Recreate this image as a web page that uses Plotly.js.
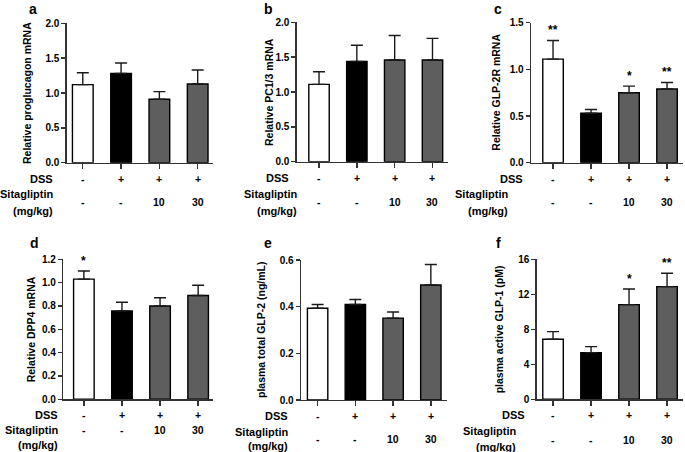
<!DOCTYPE html>
<html>
<head>
<meta charset="utf-8">
<script src="https://cdn.plot.ly/plotly-3.0.1.min.js"></script>
<style>html,body{margin:0;padding:0;background:#fff;}#chart{width:685px;height:452px;}</style>
</head>
<body>
<div id="chart"></div>
<script>
// ---- data ----
const groups = [0, 1, 2, 3];
const dssLabels = ["-", "+", "+", "+"];
const sitaLabels = ["-", "-", "10", "30"];
const barColors = ["#ffffff", "#000000", "#5e5e5e", "#5e5e5e"];

const panelLetters = ["a", "b", "c", "d", "e", "f"];
const yTitles = ["Relative proglucagon mRNA", "Relative PC1/3 mRNA", "Relative GLP-2R mRNA",
                 "Relative DPP4 mRNA", "plasma total GLP-2 (ng/mL)", "plasma active GLP-1 (pM)"];

const proglucagonMean = [1.12, 1.28, 0.91, 1.13];
const proglucagonErr  = [0.17, 0.15, 0.11, 0.20];
const pc13Mean = [1.11, 1.44, 1.46, 1.46];
const pc13Err  = [0.18, 0.23, 0.35, 0.31];
const glp2rMean = [1.11, 0.53, 0.75, 0.79];
const glp2rErr  = [0.20, 0.04, 0.07, 0.07];
const dpp4Mean = [1.03, 0.757, 0.80, 0.89];
const dpp4Err  = [0.07, 0.075, 0.07, 0.087];
const glp2Mean = [0.393, 0.409, 0.351, 0.493];
const glp2Err  = [0.016, 0.022, 0.026, 0.088];
const glp1Mean = [6.86, 5.33, 10.82, 12.88];
const glp1Err  = [0.87, 0.69, 1.78, 1.52];

const glp2rStars = ["**", "", "*", "**"];
const dpp4Stars = ["*", "", "", ""];
const glp1Stars = ["", "", "*", "**"];

const yTickVals = [
  [0, 0.5, 1.0, 1.5, 2.0],
  [0, 0.5, 1.0, 1.5, 2.0],
  [0, 0.5, 1.0, 1.5],
  [0, 0.2, 0.4, 0.6, 0.8, 1.0, 1.2],
  [0, 0.2, 0.4, 0.6],
  [0, 4, 8, 12, 16]
];
const yTickText = [
  ["0.0", "0.5", "1.0", "1.5", "2.0"],
  ["0.0", "0.5", "1.0", "1.5", "2.0"],
  ["0.0", "0.5", "1.0", "1.5"],
  ["0.0", "0.2", "0.4", "0.6", "0.8", "1.0", "1.2"],
  ["0.0", "0.2", "0.4", "0.6"],
  ["0", "4", "8", "12", "16"]
];
const yMax = [2.0, 2.0, 1.5, 1.2, 0.6, 16];

const means = [proglucagonMean, pc13Mean, glp2rMean, dpp4Mean, glp2Mean, glp1Mean];
const errs = [proglucagonErr, pc13Err, glp2rErr, dpp4Err, glp2Err, glp1Err];
const stars = [null, null, glp2rStars, dpp4Stars, null, glp1Stars];

// ---- layout geometry (pixels) ----
const W = 685, H = 452;
// [axisLeftX, axisRightX, y0px, yTopPx, rangeLo, rangeHi]
const geo = [
  [66.7, 213, 162.7, 23.3, -0.42, 3.40],
  [296.7, 448, 161.7, 22.3, -0.59, 3.41],
  [531, 683, 162.7, 22.7, -0.58, 3.42],
  [63.3, 213, 399.3, 259.3, -0.54, 3.39],
  [301, 446.7, 400, 260, -0.44, 3.42],
  [536.7, 683, 399.3, 259.3, -0.43, 3.42]
];
// row label positions: [dssRightX, dssY, sitaY, valuesY, mgkgY, sitaRightX]
const rows = [
  [55, 179, 194.3, 201.7, 210.7, 55],
  [291, 178.3, 194.3, 201.7, 210.7, 299],
  [525, 179, 194.3, 201.7, 210.7, 510],
  [60, 415, 430, 430, 445, 60],
  [290, 416, 432, 439.3, 446, 290],
  [527, 415, 430.7, 440, 446.5, 518]
];
const letterPos = [[33, 9], [268, 9], [498, 9], [34, 243], [268, 243], [498, 243]];
const yTitleX = [27, 269, 496, 31, 261, 499];

const px = x => x / W;
const py = y => 1 - y / H;

const FONT = "Liberation Sans, Arial, sans-serif";
const data = [];
const layout = {
  width: W, height: H,
  margin: {l: 0, r: 0, t: 0, b: 0},
  paper_bgcolor: "#fff", plot_bgcolor: "rgba(0,0,0,0)",
  showlegend: false,
  font: {family: FONT, color: "#000"},
  annotations: []
};

for (let i = 0; i < 6; i++) {
  const g = geo[i];
  const xa = i === 0 ? "x" : "x" + (i + 1);
  const ya = i === 0 ? "y" : "y" + (i + 1);
  const xk = i === 0 ? "xaxis" : "xaxis" + (i + 1);
  const yk = i === 0 ? "yaxis" : "yaxis" + (i + 1);
  data.push({
    type: "bar", x: groups, y: means[i], xaxis: xa, yaxis: ya,
    width: 0.54,
    marker: {color: barColors, line: {color: "#000", width: 1.4}},
    error_y: {type: "data", symmetric: false, array: errs[i], arrayminus: groups.map(() => 0),
              color: "#1a1a1a", thickness: 1.4, width: 6},
    hoverinfo: "skip"
  });
  layout[xk] = {
    domain: [px(g[0]), px(g[1])], range: [g[4], g[5]], anchor: ya,
    showgrid: false, zeroline: false, showline: true, linecolor: "#333", linewidth: 1.4,
    ticks: "outside", tickvals: groups, ticklen: 5, tickwidth: 1.4, tickcolor: "#333",
    showticklabels: false, fixedrange: true
  };
  layout[yk] = {
    domain: [py(g[2]), py(g[3])], range: [0, yMax[i]], anchor: xa,
    showgrid: false, zeroline: false, showline: true, linecolor: "#333", linewidth: 1.4,
    ticks: "outside", ticklen: 4, tickwidth: 1.4, tickcolor: "#333",
    tickvals: yTickVals[i], ticktext: yTickText[i],
    tickfont: {family: FONT, size: 10, color: "#000", weight: "bold"},
    fixedrange: true
  };
  const r = rows[i];
  const bold = {family: FONT, size: 11, color: "#000", weight: "bold"};
  const valFont = {family: FONT, size: 10.5, color: "#000", weight: "bold"};
  layout.annotations.push(
    {xref: "paper", yref: "paper", x: px(r[0]), y: py(r[1]), text: "DSS", showarrow: false,
     xanchor: "right", yanchor: "middle", font: bold},
    {xref: "paper", yref: "paper", x: px(r[5]), y: py(r[2]), text: "Sitagliptin", showarrow: false,
     xanchor: "right", yanchor: "middle", font: bold},
    {xref: "paper", yref: "paper", x: px(r[5]), y: py(r[4]), text: "(mg/kg)", showarrow: false,
     xanchor: "right", yanchor: "middle", font: bold},
    {xref: "paper", yref: "paper", x: px(letterPos[i][0]), y: py(letterPos[i][1]), text: panelLetters[i],
     showarrow: false, xanchor: "center", yanchor: "middle",
     font: {family: FONT, size: 14, color: "#000", weight: "bold"}},
    {xref: "paper", yref: "paper", x: px(yTitleX[i]), y: py((g[2] + g[3]) / 2), text: yTitles[i],
     textangle: -90, showarrow: false, xanchor: "center", yanchor: "middle",
     font: {family: FONT, size: 10.5, color: "#000", weight: "bold"}}
  );
  for (let k = 0; k < groups.length; k++) {
    layout.annotations.push(
      {xref: xa, yref: "paper", x: groups[k], y: py(r[1]), text: dssLabels[k], showarrow: false,
       xanchor: "center", yanchor: "middle", font: valFont},
      {xref: xa, yref: "paper", x: groups[k], y: py(r[3]), text: sitaLabels[k], showarrow: false,
       xanchor: "center", yanchor: "middle", font: valFont}
    );
    if (stars[i] && stars[i][k]) {
      layout.annotations.push({
        xref: xa, yref: ya, x: groups[k], y: means[i][k] + errs[i][k], text: stars[i][k],
        showarrow: false, xanchor: "center", yanchor: "bottom", yshift: 1,
        font: {family: FONT, size: 12, color: "#000", weight: "bold"}
      });
    }
  }
}

Plotly.newPlot("chart", data, layout, {displayModeBar: false, staticPlot: true});
</script>
</body>
</html>
